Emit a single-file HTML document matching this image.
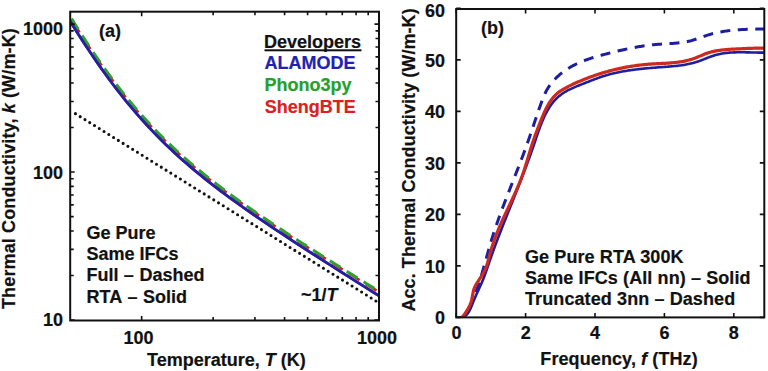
<!DOCTYPE html>
<html><head><meta charset="utf-8"><style>
html,body{margin:0;padding:0;background:#fff;width:768px;height:371px;overflow:hidden}
svg{display:block;font-family:"Liberation Sans",sans-serif;fill:#111}
</style></head><body>
<svg width="768" height="371" viewBox="0 0 768 371">
<defs><clipPath id="ca"><rect x="70" y="11" width="309" height="310"/></clipPath><clipPath id="cb"><rect x="456" y="9" width="308.5" height="309"/></clipPath></defs>
<g clip-path="url(#ca)" fill="none">
<path d="M75.43,113.67 L151.08,160.81 L226.73,207.96 L302.38,255.10 L378.03,302.25" stroke="#111" stroke-width="3.1" stroke-dasharray="0 5.62" stroke-linecap="round"/>
<path d="M70.20,21.36 L74.06,27.54 L77.92,33.63 L81.78,39.63 L85.64,45.54 L89.50,51.34 L93.36,57.05 L97.23,62.65 L101.09,68.14 L104.95,73.53 L108.81,78.81 L112.67,83.98 L116.53,89.04 L120.39,94.00 L124.25,98.84 L128.11,103.58 L131.97,108.21 L135.83,112.74 L139.69,117.16 L143.56,121.48 L147.42,125.70 L151.28,129.82 L155.14,133.85 L159.00,137.79 L162.86,141.64 L166.72,145.40 L170.58,149.08 L174.44,152.69 L178.30,156.22 L182.16,159.68 L186.02,163.07 L189.89,166.40 L193.75,169.66 L197.61,172.87 L201.47,176.03 L205.33,179.13 L209.19,182.18 L213.05,185.19 L216.91,188.16 L220.77,191.09 L224.63,193.97 L228.49,196.83 L232.35,199.65 L236.21,202.44 L240.08,205.20 L243.94,207.94 L247.80,210.65 L251.66,213.34 L255.52,216.01 L259.38,218.65 L263.24,221.28 L267.10,223.90 L270.96,226.49 L274.82,229.07 L278.68,231.64 L282.54,234.20 L286.41,236.74 L290.27,239.28 L294.13,241.80 L297.99,244.32 L301.85,246.82 L305.71,249.32 L309.57,251.81 L313.43,254.30 L317.29,256.78 L321.15,259.25 L325.01,261.72 L328.87,264.18 L332.73,266.64 L336.60,269.09 L340.46,271.54 L344.32,273.99 L348.18,276.44 L352.04,278.88 L355.90,281.31 L359.76,283.75 L363.62,286.18 L367.48,288.61 L371.34,291.04 L375.20,293.47 L379.06,295.90" stroke="#c42a20" stroke-width="2.6"/>
<path d="M70.20,17.61 L74.06,23.84 L77.92,29.98 L81.78,36.02 L85.64,41.97 L89.50,47.81 L93.36,53.55 L97.23,59.19 L101.09,64.72 L104.95,70.15 L108.81,75.46 L112.67,80.67 L116.53,85.76 L120.39,90.75 L124.25,95.63 L128.11,100.39 L131.97,105.05 L135.83,109.60 L139.69,114.05 L143.56,118.39 L147.42,122.64 L151.28,126.78 L155.14,130.83 L159.00,134.79 L162.86,138.66 L166.72,142.44 L170.58,146.14 L174.44,149.76 L178.30,153.31 L182.16,156.78 L186.02,160.19 L189.89,163.52 L193.75,166.80 L197.61,170.02 L201.47,173.18 L205.33,176.29 L209.19,179.35 L213.05,182.36 L216.91,185.33 L220.77,188.26 L224.63,191.15 L228.49,194.00 L232.35,196.82 L236.21,199.61 L240.08,202.37 L243.94,205.10 L247.80,207.80 L251.66,210.48 L255.52,213.14 L259.38,215.78 L263.24,218.40 L267.10,221.00 L270.96,223.58 L274.82,226.15 L278.68,228.70 L282.54,231.24 L286.41,233.77 L290.27,236.28 L294.13,238.79 L297.99,241.28 L301.85,243.77 L305.71,246.24 L309.57,248.71 L313.43,251.17 L317.29,253.62 L321.15,256.06 L325.01,258.50 L328.87,260.93 L332.73,263.36 L336.60,265.78 L340.46,268.20 L344.32,270.61 L348.18,273.02 L352.04,275.42 L355.90,277.82 L359.76,280.22 L363.62,282.61 L367.48,285.00 L371.34,287.39 L375.20,289.77 L379.06,292.15" stroke="#c42a20" stroke-width="2.8" stroke-dasharray="12.5 7.4" stroke-dashoffset="-5"/>
<path d="M70.20,16.53 L74.06,22.76 L77.92,28.90 L81.78,34.95 L85.64,40.90 L89.50,46.74 L93.36,52.49 L97.23,58.13 L101.09,63.67 L104.95,69.09 L108.81,74.41 L112.67,79.62 L116.53,84.72 L120.39,89.71 L124.25,94.59 L128.11,99.36 L131.97,104.02 L135.83,108.57 L139.69,113.02 L143.56,117.37 L147.42,121.62 L151.28,125.77 L155.14,129.82 L159.00,133.78 L162.86,137.66 L166.72,141.44 L170.58,145.15 L174.44,148.77 L178.30,152.32 L182.16,155.79 L186.02,159.20 L189.89,162.54 L193.75,165.82 L197.61,169.04 L201.47,172.21 L205.33,175.32 L209.19,178.39 L213.05,181.40 L216.91,184.37 L220.77,187.31 L224.63,190.20 L228.49,193.06 L232.35,195.88 L236.21,198.67 L240.08,201.43 L243.94,204.17 L247.80,206.88 L251.66,209.56 L255.52,212.23 L259.38,214.87 L263.24,217.49 L267.10,220.09 L270.96,222.68 L274.82,225.25 L278.68,227.81 L282.54,230.35 L286.41,232.89 L290.27,235.40 L294.13,237.91 L297.99,240.41 L301.85,242.90 L305.71,245.38 L309.57,247.85 L313.43,250.31 L317.29,252.77 L321.15,255.22 L325.01,257.66 L328.87,260.10 L332.73,262.53 L336.60,264.95 L340.46,267.37 L344.32,269.79 L348.18,272.20 L352.04,274.61 L355.90,277.01 L359.76,279.41 L363.62,281.81 L367.48,284.21 L371.34,286.60 L375.20,288.98 L379.06,291.37" stroke="#30a030" stroke-width="3.0" stroke-dasharray="12.5 7.4" stroke-dashoffset="-2.5"/>
<path d="M70.20,21.36 L74.06,27.54 L77.92,33.63 L81.78,39.63 L85.64,45.54 L89.50,51.34 L93.36,57.05 L97.23,62.65 L101.09,68.14 L104.95,73.53 L108.81,78.81 L112.67,83.98 L116.53,89.04 L120.39,94.00 L124.25,98.84 L128.11,103.58 L131.97,108.21 L135.83,112.74 L139.69,117.16 L143.56,121.48 L147.42,125.70 L151.28,129.82 L155.14,133.85 L159.00,137.79 L162.86,141.64 L166.72,145.40 L170.58,149.08 L174.44,152.69 L178.30,156.22 L182.16,159.68 L186.02,163.07 L189.89,166.40 L193.75,169.66 L197.61,172.87 L201.47,176.03 L205.33,179.13 L209.19,182.18 L213.05,185.19 L216.91,188.16 L220.77,191.09 L224.63,193.97 L228.49,196.83 L232.35,199.65 L236.21,202.44 L240.08,205.20 L243.94,207.94 L247.80,210.65 L251.66,213.34 L255.52,216.01 L259.38,218.65 L263.24,221.28 L267.10,223.90 L270.96,226.49 L274.82,229.07 L278.68,231.64 L282.54,234.20 L286.41,236.74 L290.27,239.28 L294.13,241.80 L297.99,244.32 L301.85,246.82 L305.71,249.32 L309.57,251.81 L313.43,254.30 L317.29,256.78 L321.15,259.25 L325.01,261.72 L328.87,264.18 L332.73,266.64 L336.60,269.09 L340.46,271.54 L344.32,273.99 L348.18,276.44 L352.04,278.88 L355.90,281.31 L359.76,283.75 L363.62,286.18 L367.48,288.61 L371.34,291.04 L375.20,293.47 L379.06,295.90" stroke="#2020a8" stroke-width="2.8"/>
</g>
<rect x="70.2" y="11.7" width="308.8" height="308.8" fill="none" stroke="#111" stroke-width="2"/>
<path d="M141.66,320.5 v-4.5 M141.66,11.7 v4.5 M379.06,320.5 v-4.5 M379.06,11.7 v4.5 M213.13,320.5 v-3.5 M213.13,11.7 v3.5 M254.93,320.5 v-3.5 M254.93,11.7 v3.5 M284.59,320.5 v-3.5 M284.59,11.7 v3.5 M307.60,320.5 v-3.5 M307.60,11.7 v3.5 M326.40,320.5 v-3.5 M326.40,11.7 v3.5 M342.29,320.5 v-3.5 M342.29,11.7 v3.5 M356.06,320.5 v-3.5 M356.06,11.7 v3.5 M368.20,320.5 v-3.5 M368.20,11.7 v3.5 M70.2,320.00 h4.5 M379.0,320.00 h-4.5 M70.2,172.05 h4.5 M379.0,172.05 h-4.5 M70.2,24.10 h4.5 M379.0,24.10 h-4.5 M70.2,275.46 h3.5 M379.0,275.46 h-3.5 M70.2,249.41 h3.5 M379.0,249.41 h-3.5 M70.2,230.93 h3.5 M379.0,230.93 h-3.5 M70.2,216.59 h3.5 M379.0,216.59 h-3.5 M70.2,204.87 h3.5 M379.0,204.87 h-3.5 M70.2,194.97 h3.5 M379.0,194.97 h-3.5 M70.2,186.39 h3.5 M379.0,186.39 h-3.5 M70.2,178.82 h3.5 M379.0,178.82 h-3.5 M70.2,127.51 h3.5 M379.0,127.51 h-3.5 M70.2,101.46 h3.5 M379.0,101.46 h-3.5 M70.2,82.98 h3.5 M379.0,82.98 h-3.5 M70.2,68.64 h3.5 M379.0,68.64 h-3.5 M70.2,56.92 h3.5 M379.0,56.92 h-3.5 M70.2,47.02 h3.5 M379.0,47.02 h-3.5 M70.2,38.44 h3.5 M379.0,38.44 h-3.5 M70.2,30.87 h3.5 M379.0,30.87 h-3.5" stroke="#111" stroke-width="1.6" fill="none"/>
<g clip-path="url(#cb)" fill="none">
<path d="M449.69,317.15 L451.30,317.71 L452.83,318.12 L454.28,318.40 L455.67,318.55 L456.98,318.57 L458.22,318.48 L459.39,318.26 L460.49,317.94 L461.53,317.50 L462.50,316.97 L463.40,316.33 L464.24,315.61 L465.02,314.81 L465.75,313.93 L466.44,312.99 L467.08,312.00 L467.69,310.97 L468.28,309.90 L468.84,308.80 L469.38,307.69 L469.91,306.57 L470.43,305.45 L470.95,304.33 L471.45,303.20 L471.95,302.07 L472.43,300.93 L472.91,299.79 L473.38,298.65 L473.84,297.50 L474.30,296.36 L474.74,295.20 L475.18,294.05 L475.62,292.89 L476.04,291.73 L476.46,290.57 L476.88,289.41 L477.28,288.24 L477.69,287.07 L478.08,285.90 L478.47,284.73 L478.86,283.55 L479.24,282.38 L479.61,281.20 L479.99,280.02 L480.35,278.83 L480.72,277.65 L481.08,276.46 L481.43,275.28 L481.79,274.09 L482.14,272.90 L482.49,271.71 L482.83,270.52 L483.17,269.33 L483.51,268.13 L483.85,266.94 L484.19,265.74 L484.53,264.55 L484.86,263.35 L485.20,262.16 L485.53,260.96 L485.86,259.76 L486.20,258.57 L486.53,257.37 L486.86,256.17 L487.20,254.98 L487.53,253.78 L487.87,252.59 L488.20,251.39 L488.54,250.20 L488.88,249.00 L489.22,247.81 L489.57,246.62 L489.91,245.42 L490.26,244.23 L490.61,243.04 L490.97,241.86 L491.33,240.67 L491.69,239.48 L492.06,238.30 L492.42,237.11 L492.80,235.93 L493.17,234.75 L493.55,233.57 L493.94,232.40 L494.32,231.22 L494.71,230.04 L495.10,228.87 L495.50,227.69 L495.89,226.52 L496.29,225.35 L496.70,224.18 L497.10,223.01 L497.51,221.84 L497.92,220.68 L498.34,219.51 L498.75,218.34 L499.17,217.18 L499.59,216.02 L500.01,214.85 L500.44,213.69 L500.86,212.53 L501.29,211.37 L501.72,210.21 L502.15,209.05 L502.59,207.89 L503.02,206.74 L503.46,205.58 L503.90,204.42 L504.34,203.27 L504.78,202.11 L505.22,200.95 L505.67,199.80 L506.11,198.65 L506.56,197.49 L507.00,196.34 L507.45,195.19 L507.90,194.03 L508.35,192.88 L508.80,191.73 L509.25,190.58 L509.70,189.43 L510.16,188.28 L510.61,187.12 L511.06,185.97 L511.51,184.82 L511.97,183.67 L512.42,182.52 L512.87,181.37 L513.33,180.22 L513.78,179.07 L514.23,177.92 L514.69,176.77 L515.14,175.62 L515.59,174.47 L516.04,173.32 L516.49,172.16 L516.94,171.01 L517.39,169.86 L517.84,168.71 L518.29,167.56 L518.74,166.41 L519.18,165.25 L519.63,164.10 L520.07,162.95 L520.52,161.79 L520.96,160.64 L521.40,159.48 L521.84,158.33 L522.28,157.17 L522.71,156.02 L523.15,154.86 L523.58,153.70 L524.01,152.54 L524.44,151.38 L524.87,150.22 L525.29,149.06 L525.72,147.90 L526.14,146.74 L526.56,145.58 L526.97,144.42 L527.39,143.25 L527.80,142.09 L528.21,140.92 L528.62,139.75 L529.02,138.59 L529.43,137.42 L529.83,136.25 L530.23,135.08 L530.63,133.91 L531.03,132.74 L531.43,131.57 L531.82,130.40 L532.22,129.22 L532.62,128.05 L533.01,126.88 L533.41,125.70 L533.80,124.53 L534.20,123.36 L534.59,122.18 L534.99,121.01 L535.38,119.83 L535.78,118.65 L536.18,117.48 L536.58,116.30 L536.97,115.13 L537.38,113.95 L537.78,112.77 L538.18,111.60 L538.59,110.42 L538.99,109.25 L539.40,108.07 L539.81,106.89 L540.23,105.72 L540.64,104.54 L541.06,103.37 L541.48,102.19 L541.91,101.02 L542.35,99.85 L542.80,98.69 L543.26,97.53 L543.73,96.38 L544.22,95.24 L544.73,94.11 L545.25,93.00 L545.80,91.89 L546.37,90.80 L546.97,89.72 L547.59,88.66 L548.24,87.62 L548.91,86.59 L549.61,85.58 L550.33,84.58 L551.07,83.60 L551.84,82.64 L552.63,81.69 L553.44,80.76 L554.27,79.85 L555.12,78.95 L555.98,78.07 L556.87,77.20 L557.77,76.36 L558.70,75.53 L559.63,74.71 L560.59,73.91 L561.55,73.13 L562.54,72.37 L563.53,71.62 L564.54,70.89 L565.57,70.18 L566.60,69.49 L567.65,68.81 L568.70,68.15 L569.77,67.50 L570.84,66.88 L571.93,66.27 L573.02,65.68 L574.12,65.10 L575.22,64.55 L576.33,64.01 L577.45,63.48 L578.58,62.97 L579.71,62.47 L580.85,61.99 L581.99,61.52 L583.14,61.06 L584.30,60.62 L585.46,60.19 L586.62,59.76 L587.79,59.35 L588.96,58.95 L590.13,58.56 L591.31,58.18 L592.49,57.80 L593.68,57.44 L594.87,57.08 L596.06,56.73 L597.25,56.38 L598.44,56.04 L599.64,55.70 L600.83,55.37 L602.03,55.05 L603.23,54.72 L604.43,54.40 L605.63,54.09 L606.83,53.77 L608.03,53.46 L609.23,53.15 L610.43,52.84 L611.63,52.54 L612.84,52.23 L614.04,51.94 L615.24,51.64 L616.44,51.35 L617.65,51.06 L618.85,50.77 L620.05,50.49 L621.26,50.21 L622.46,49.94 L623.67,49.67 L624.88,49.41 L626.09,49.15 L627.29,48.89 L628.50,48.64 L629.71,48.39 L630.92,48.15 L632.14,47.91 L633.35,47.68 L634.56,47.45 L635.78,47.23 L636.99,47.02 L638.21,46.81 L639.43,46.60 L640.64,46.40 L641.86,46.21 L643.08,46.02 L644.31,45.84 L645.53,45.67 L646.75,45.50 L647.98,45.34 L649.21,45.19 L650.44,45.04 L651.67,44.90 L652.90,44.77 L654.13,44.65 L655.36,44.53 L656.60,44.42 L657.84,44.32 L659.07,44.22 L660.31,44.14 L661.56,44.06 L662.80,43.98 L664.04,43.91 L665.28,43.84 L666.53,43.77 L667.77,43.70 L669.01,43.63 L670.25,43.55 L671.50,43.48 L672.74,43.39 L673.97,43.30 L675.21,43.21 L676.45,43.10 L677.68,42.99 L678.91,42.86 L680.14,42.72 L681.36,42.56 L682.58,42.39 L683.80,42.21 L685.01,42.00 L686.22,41.78 L687.43,41.54 L688.63,41.27 L689.83,40.99 L691.02,40.68 L692.20,40.34 L693.39,39.99 L694.56,39.62 L695.74,39.24 L696.91,38.84 L698.09,38.44 L699.26,38.03 L700.43,37.61 L701.60,37.20 L702.77,36.78 L703.94,36.37 L705.11,35.96 L706.28,35.57 L707.46,35.18 L708.64,34.81 L709.83,34.45 L711.01,34.11 L712.20,33.79 L713.40,33.48 L714.60,33.18 L715.80,32.90 L717.00,32.63 L718.21,32.38 L719.42,32.14 L720.63,31.91 L721.84,31.69 L723.06,31.48 L724.28,31.29 L725.50,31.11 L726.73,30.94 L727.95,30.78 L729.18,30.62 L730.41,30.48 L731.64,30.35 L732.87,30.23 L734.11,30.11 L735.34,30.01 L736.58,29.91 L737.81,29.82 L739.05,29.73 L740.29,29.66 L741.53,29.59 L742.77,29.52 L744.01,29.46 L745.26,29.41 L746.50,29.36 L747.74,29.32 L748.98,29.28 L750.22,29.24 L751.47,29.21 L752.71,29.18 L753.95,29.16 L755.19,29.13 L756.43,29.11 L757.67,29.09 L758.91,29.07 L760.15,29.06 L761.38,29.04 L762.62,29.02 L763.85,29.00 L765.08,28.99 L766.32,28.97 L767.55,28.95 L768.77,28.93 L770.00,28.91" stroke="#1e1ea0" stroke-width="3" stroke-dasharray="10 7.5" stroke-dashoffset="10.5"/>
<path d="M449.69,317.13 L451.20,317.60 L452.65,317.96 L454.05,318.23 L455.39,318.41 L456.68,318.49 L457.91,318.49 L459.09,318.40 L460.21,318.22 L461.28,317.96 L462.30,317.62 L463.26,317.20 L464.17,316.70 L465.02,316.13 L465.82,315.48 L466.57,314.76 L467.28,313.97 L467.93,313.12 L468.55,312.21 L469.13,311.26 L469.68,310.26 L470.21,309.22 L470.71,308.15 L471.19,307.04 L471.66,305.92 L472.12,304.78 L472.57,303.63 L473.02,302.47 L473.48,301.32 L473.94,300.17 L474.42,299.02 L474.90,297.89 L475.39,296.76 L475.88,295.63 L476.38,294.52 L476.89,293.40 L477.39,292.29 L477.90,291.19 L478.41,290.09 L478.91,288.99 L479.42,287.90 L479.92,286.80 L480.41,285.71 L480.90,284.62 L481.39,283.53 L481.87,282.44 L482.33,281.34 L482.79,280.25 L483.24,279.16 L483.68,278.06 L484.10,276.96 L484.52,275.86 L484.93,274.75 L485.33,273.65 L485.73,272.54 L486.12,271.44 L486.51,270.33 L486.89,269.22 L487.27,268.11 L487.65,266.99 L488.02,265.88 L488.40,264.77 L488.78,263.65 L489.15,262.54 L489.54,261.42 L489.92,260.30 L490.31,259.18 L490.70,258.07 L491.09,256.95 L491.48,255.83 L491.88,254.71 L492.28,253.59 L492.68,252.47 L493.09,251.35 L493.49,250.23 L493.90,249.11 L494.31,247.99 L494.73,246.87 L495.14,245.75 L495.56,244.63 L495.98,243.51 L496.40,242.38 L496.82,241.26 L497.24,240.14 L497.67,239.02 L498.10,237.90 L498.53,236.78 L498.96,235.66 L499.39,234.54 L499.82,233.42 L500.25,232.30 L500.69,231.18 L501.13,230.06 L501.56,228.94 L502.00,227.82 L502.44,226.71 L502.88,225.59 L503.32,224.47 L503.76,223.36 L504.20,222.24 L504.64,221.13 L505.09,220.01 L505.53,218.90 L505.97,217.78 L506.42,216.67 L506.86,215.56 L507.30,214.45 L507.75,213.34 L508.19,212.23 L508.63,211.12 L509.08,210.02 L509.52,208.91 L509.96,207.81 L510.41,206.70 L510.85,205.60 L511.29,204.50 L511.73,203.40 L512.17,202.30 L512.61,201.20 L513.05,200.10 L513.49,199.01 L513.92,197.92 L514.36,196.82 L514.80,195.73 L515.23,194.64 L515.66,193.55 L516.10,192.46 L516.53,191.37 L516.96,190.28 L517.39,189.20 L517.82,188.11 L518.25,187.02 L518.67,185.94 L519.10,184.85 L519.53,183.76 L519.95,182.68 L520.38,181.59 L520.80,180.50 L521.22,179.41 L521.64,178.33 L522.06,177.24 L522.48,176.15 L522.90,175.06 L523.32,173.97 L523.73,172.87 L524.15,171.78 L524.56,170.69 L524.98,169.59 L525.39,168.50 L525.80,167.40 L526.21,166.30 L526.62,165.20 L527.03,164.09 L527.44,162.99 L527.85,161.88 L528.25,160.77 L528.66,159.66 L529.06,158.55 L529.47,157.43 L529.87,156.31 L530.27,155.19 L530.67,154.07 L531.07,152.94 L531.47,151.81 L531.87,150.68 L532.27,149.55 L532.66,148.41 L533.06,147.27 L533.45,146.13 L533.85,144.98 L534.24,143.83 L534.63,142.67 L535.02,141.51 L535.41,140.35 L535.80,139.19 L536.19,138.02 L536.59,136.86 L536.98,135.69 L537.38,134.52 L537.78,133.36 L538.18,132.19 L538.59,131.03 L539.00,129.87 L539.42,128.71 L539.84,127.56 L540.27,126.40 L540.70,125.26 L541.15,124.12 L541.60,122.98 L542.05,121.85 L542.52,120.73 L543.00,119.62 L543.48,118.51 L543.98,117.41 L544.48,116.32 L545.00,115.24 L545.53,114.18 L546.07,113.12 L546.63,112.07 L547.20,111.04 L547.78,110.02 L548.38,109.01 L548.99,108.02 L549.61,107.04 L550.26,106.07 L550.92,105.12 L551.59,104.19 L552.29,103.27 L553.00,102.37 L553.73,101.49 L554.48,100.63 L555.25,99.79 L556.05,98.96 L556.86,98.16 L557.69,97.38 L558.54,96.61 L559.42,95.87 L560.32,95.16 L561.25,94.46 L562.19,93.79 L563.16,93.14 L564.15,92.51 L565.15,91.90 L566.18,91.31 L567.22,90.73 L568.27,90.17 L569.34,89.63 L570.42,89.10 L571.51,88.58 L572.62,88.07 L573.73,87.58 L574.85,87.10 L575.97,86.62 L577.10,86.15 L578.24,85.69 L579.37,85.24 L580.51,84.79 L581.65,84.34 L582.78,83.89 L583.92,83.45 L585.05,83.01 L586.17,82.57 L587.29,82.13 L588.41,81.68 L589.52,81.25 L590.64,80.81 L591.75,80.38 L592.85,79.95 L593.96,79.52 L595.07,79.10 L596.17,78.69 L597.28,78.28 L598.38,77.88 L599.49,77.48 L600.60,77.10 L601.71,76.72 L602.83,76.35 L603.95,75.99 L605.07,75.64 L606.20,75.31 L607.32,74.98 L608.46,74.66 L609.59,74.35 L610.73,74.05 L611.87,73.76 L613.01,73.48 L614.16,73.21 L615.31,72.95 L616.46,72.69 L617.62,72.44 L618.77,72.20 L619.93,71.97 L621.10,71.75 L622.26,71.53 L623.43,71.32 L624.60,71.12 L625.77,70.92 L626.94,70.73 L628.11,70.55 L629.29,70.37 L630.47,70.20 L631.65,70.03 L632.83,69.87 L634.01,69.71 L635.19,69.56 L636.38,69.42 L637.57,69.28 L638.75,69.14 L639.94,69.01 L641.13,68.88 L642.32,68.76 L643.51,68.64 L644.70,68.52 L645.89,68.41 L647.08,68.29 L648.28,68.19 L649.47,68.08 L650.66,67.98 L651.85,67.88 L653.05,67.78 L654.24,67.68 L655.43,67.59 L656.63,67.49 L657.82,67.40 L659.01,67.31 L660.20,67.22 L661.39,67.13 L662.58,67.04 L663.77,66.95 L664.96,66.86 L666.15,66.77 L667.34,66.68 L668.52,66.59 L669.71,66.50 L670.89,66.40 L672.07,66.30 L673.25,66.19 L674.43,66.08 L675.61,65.97 L676.78,65.84 L677.96,65.71 L679.13,65.57 L680.30,65.43 L681.46,65.27 L682.63,65.10 L683.79,64.92 L684.95,64.73 L686.11,64.53 L687.26,64.31 L688.41,64.08 L689.56,63.84 L690.71,63.58 L691.85,63.30 L692.99,63.01 L694.13,62.69 L695.26,62.37 L696.39,62.02 L697.51,61.65 L698.64,61.26 L699.76,60.86 L700.87,60.44 L701.99,60.02 L703.10,59.59 L704.22,59.15 L705.33,58.71 L706.44,58.27 L707.56,57.83 L708.68,57.40 L709.79,56.97 L710.92,56.56 L712.04,56.17 L713.17,55.78 L714.30,55.42 L715.44,55.08 L716.58,54.77 L717.73,54.47 L718.88,54.20 L720.04,53.95 L721.20,53.73 L722.36,53.52 L723.53,53.33 L724.71,53.16 L725.88,53.01 L727.06,52.88 L728.25,52.76 L729.43,52.65 L730.62,52.57 L731.81,52.49 L733.01,52.43 L734.20,52.38 L735.40,52.34 L736.60,52.31 L737.80,52.29 L739.00,52.28 L740.20,52.27 L741.41,52.28 L742.61,52.28 L743.81,52.30 L745.02,52.32 L746.22,52.34 L747.43,52.37 L748.63,52.39 L749.83,52.42 L751.04,52.45 L752.24,52.48 L753.44,52.51 L754.63,52.53 L755.83,52.55 L757.02,52.57 L758.22,52.59 L759.40,52.59 L760.59,52.60 L761.78,52.59 L762.96,52.58 L764.13,52.56 L765.31,52.52 L766.48,52.48 L767.64,52.43 L768.81,52.36 L769.97,52.28" stroke="#1e1ea0" stroke-width="2.6"/>
<path d="M449.98,317.47 L451.03,317.29 L452.20,317.26 L453.44,317.33 L454.74,317.48 L456.06,317.64 L457.37,317.77 L458.65,317.83 L459.86,317.77 L460.97,317.55 L461.96,317.11 L462.81,316.44 L463.55,315.59 L464.24,314.65 L464.92,313.69 L465.59,312.70 L466.25,311.70 L466.89,310.68 L467.52,309.64 L468.12,308.58 L468.70,307.51 L469.24,306.42 L469.76,305.32 L470.24,304.21 L470.68,303.07 L471.07,301.93 L471.42,300.77 L471.73,299.60 L471.99,298.42 L472.23,297.24 L472.45,296.05 L472.66,294.87 L472.88,293.69 L473.11,292.52 L473.36,291.37 L473.64,290.23 L473.97,289.11 L474.35,288.02 L474.80,286.95 L475.30,285.91 L475.86,284.89 L476.46,283.89 L477.09,282.89 L477.74,281.90 L478.39,280.92 L479.05,279.92 L479.71,278.93 L480.36,277.93 L481.01,276.93 L481.65,275.92 L482.28,274.90 L482.89,273.87 L483.48,272.84 L484.05,271.79 L484.60,270.73 L485.11,269.66 L485.60,268.57 L486.05,267.47 L486.46,266.35 L486.85,265.22 L487.22,264.08 L487.56,262.93 L487.89,261.77 L488.20,260.61 L488.51,259.45 L488.81,258.28 L489.11,257.11 L489.41,255.94 L489.71,254.77 L490.02,253.61 L490.35,252.45 L490.67,251.29 L491.01,250.14 L491.36,248.99 L491.71,247.85 L492.07,246.70 L492.44,245.56 L492.81,244.43 L493.19,243.29 L493.58,242.16 L493.98,241.03 L494.38,239.91 L494.79,238.79 L495.20,237.67 L495.62,236.55 L496.05,235.43 L496.48,234.32 L496.92,233.21 L497.36,232.10 L497.81,230.99 L498.26,229.89 L498.72,228.79 L499.18,227.68 L499.65,226.58 L500.12,225.49 L500.60,224.39 L501.08,223.30 L501.56,222.20 L502.05,221.11 L502.54,220.02 L503.04,218.93 L503.53,217.84 L504.03,216.76 L504.54,215.67 L505.04,214.58 L505.55,213.50 L506.05,212.41 L506.56,211.33 L507.07,210.25 L507.58,209.16 L508.10,208.08 L508.61,207.00 L509.12,205.91 L509.63,204.83 L510.14,203.75 L510.65,202.66 L511.16,201.58 L511.67,200.49 L512.17,199.41 L512.68,198.32 L513.18,197.24 L513.68,196.15 L514.18,195.06 L514.67,193.97 L515.17,192.88 L515.66,191.79 L516.14,190.69 L516.62,189.60 L517.10,188.50 L517.57,187.40 L518.04,186.30 L518.50,185.20 L518.96,184.10 L519.42,182.99 L519.86,181.89 L520.30,180.78 L520.74,179.66 L521.17,178.55 L521.59,177.43 L522.01,176.31 L522.42,175.19 L522.82,174.07 L523.21,172.94 L523.60,171.81 L523.98,170.68 L524.36,169.54 L524.73,168.40 L525.09,167.27 L525.46,166.12 L525.81,164.98 L526.17,163.84 L526.52,162.70 L526.87,161.55 L527.22,160.40 L527.56,159.26 L527.91,158.11 L528.25,156.96 L528.60,155.81 L528.94,154.66 L529.29,153.51 L529.63,152.36 L529.98,151.22 L530.33,150.07 L530.68,148.92 L531.04,147.77 L531.40,146.63 L531.76,145.48 L532.13,144.34 L532.50,143.20 L532.88,142.06 L533.26,140.92 L533.65,139.78 L534.04,138.65 L534.44,137.51 L534.84,136.38 L535.25,135.25 L535.66,134.12 L536.07,133.00 L536.49,131.87 L536.91,130.75 L537.34,129.63 L537.76,128.51 L538.19,127.39 L538.63,126.28 L539.06,125.17 L539.50,124.06 L539.94,122.95 L540.38,121.84 L540.82,120.74 L541.26,119.64 L541.71,118.54 L542.15,117.44 L542.61,116.34 L543.06,115.25 L543.53,114.16 L544.01,113.07 L544.49,111.98 L545.00,110.90 L545.51,109.82 L546.04,108.74 L546.59,107.67 L547.16,106.60 L547.75,105.54 L548.35,104.48 L548.98,103.44 L549.63,102.42 L550.30,101.40 L550.99,100.41 L551.70,99.43 L552.44,98.48 L553.20,97.55 L553.99,96.64 L554.80,95.77 L555.64,94.92 L556.50,94.10 L557.39,93.32 L558.31,92.57 L559.26,91.85 L560.23,91.17 L561.22,90.51 L562.23,89.88 L563.25,89.27 L564.29,88.68 L565.34,88.10 L566.39,87.54 L567.45,86.98 L568.52,86.43 L569.59,85.89 L570.66,85.36 L571.74,84.83 L572.82,84.32 L573.90,83.81 L574.99,83.30 L576.09,82.81 L577.18,82.32 L578.28,81.84 L579.38,81.36 L580.49,80.90 L581.59,80.44 L582.70,79.98 L583.82,79.53 L584.93,79.09 L586.05,78.65 L587.17,78.22 L588.29,77.79 L589.41,77.37 L590.53,76.96 L591.66,76.55 L592.79,76.15 L593.92,75.75 L595.05,75.36 L596.18,74.98 L597.32,74.60 L598.46,74.23 L599.59,73.86 L600.74,73.50 L601.88,73.15 L603.02,72.80 L604.17,72.46 L605.32,72.12 L606.47,71.79 L607.62,71.47 L608.77,71.15 L609.92,70.84 L611.08,70.54 L612.24,70.24 L613.39,69.95 L614.55,69.66 L615.72,69.38 L616.88,69.11 L618.04,68.84 L619.21,68.58 L620.38,68.33 L621.55,68.08 L622.72,67.84 L623.89,67.60 L625.06,67.37 L626.23,67.15 L627.41,66.94 L628.59,66.73 L629.76,66.53 L630.94,66.33 L632.12,66.14 L633.30,65.96 L634.49,65.78 L635.67,65.61 L636.85,65.45 L638.04,65.30 L639.23,65.15 L640.42,65.00 L641.60,64.87 L642.79,64.74 L643.98,64.62 L645.18,64.50 L646.37,64.39 L647.56,64.29 L648.76,64.20 L649.95,64.11 L651.15,64.03 L652.35,63.95 L653.54,63.88 L654.74,63.81 L655.94,63.75 L657.14,63.69 L658.34,63.63 L659.54,63.58 L660.73,63.52 L661.93,63.46 L663.13,63.40 L664.33,63.34 L665.53,63.28 L666.72,63.21 L667.92,63.13 L669.11,63.05 L670.31,62.96 L671.50,62.87 L672.69,62.77 L673.88,62.65 L675.07,62.53 L676.26,62.40 L677.44,62.25 L678.62,62.09 L679.81,61.92 L680.98,61.74 L682.16,61.53 L683.34,61.32 L684.51,61.08 L685.68,60.83 L686.84,60.56 L688.01,60.27 L689.17,59.96 L690.32,59.63 L691.47,59.29 L692.62,58.92 L693.75,58.54 L694.88,58.14 L696.01,57.72 L697.12,57.28 L698.22,56.82 L699.32,56.36 L700.41,55.88 L701.51,55.41 L702.60,54.94 L703.69,54.49 L704.79,54.04 L705.89,53.62 L707.01,53.23 L708.13,52.85 L709.26,52.51 L710.40,52.18 L711.54,51.88 L712.70,51.60 L713.85,51.34 L715.02,51.09 L716.19,50.87 L717.36,50.66 L718.55,50.47 L719.73,50.30 L720.92,50.14 L722.11,49.99 L723.31,49.86 L724.51,49.74 L725.71,49.63 L726.91,49.52 L728.12,49.43 L729.32,49.35 L730.53,49.27 L731.74,49.20 L732.94,49.13 L734.15,49.07 L735.36,49.01 L736.56,48.95 L737.76,48.90 L738.97,48.85 L740.17,48.79 L741.36,48.73 L742.56,48.68 L743.75,48.62 L744.94,48.57 L746.12,48.51 L747.31,48.46 L748.50,48.41 L749.68,48.36 L750.87,48.32 L752.05,48.28 L753.24,48.24 L754.42,48.21 L755.61,48.19 L756.79,48.17 L757.98,48.16 L759.17,48.16 L760.36,48.17 L761.56,48.19 L762.76,48.21 L763.95,48.25 L765.16,48.30 L766.36,48.36 L767.57,48.43 L768.79,48.51 L770.00,48.61" stroke="#cc2a1e" stroke-width="3.2"/>
</g>
<rect x="456.2" y="9.0" width="308.09999999999997" height="308.4" fill="none" stroke="#111" stroke-width="2"/>
<path d="M456.20,317.4 v-4.5 M456.20,9.0 v4.5 M525.60,317.4 v-4.5 M525.60,9.0 v4.5 M595.00,317.4 v-4.5 M595.00,9.0 v4.5 M664.40,317.4 v-4.5 M664.40,9.0 v4.5 M733.80,317.4 v-4.5 M733.80,9.0 v4.5 M456.2,317.40 h4.5 M764.3,317.40 h-4.5 M456.2,265.90 h4.5 M764.3,265.90 h-4.5 M456.2,214.40 h4.5 M764.3,214.40 h-4.5 M456.2,162.90 h4.5 M764.3,162.90 h-4.5 M456.2,111.40 h4.5 M764.3,111.40 h-4.5 M456.2,59.90 h4.5 M764.3,59.90 h-4.5 M456.2,8.40 h4.5 M764.3,8.40 h-4.5" stroke="#111" stroke-width="1.6" fill="none"/>
<text x="63" y="34.5" font-size="18" font-weight="bold" stroke="#111" stroke-width="0.2" text-anchor="end">1000</text>
<text x="63" y="178.5" font-size="18" font-weight="bold" stroke="#111" stroke-width="0.2" text-anchor="end">100</text>
<text x="63" y="325.5" font-size="18" font-weight="bold" stroke="#111" stroke-width="0.2" text-anchor="end">10</text>
<text x="138.5" y="343.5" font-size="18" font-weight="bold" stroke="#111" stroke-width="0.2" text-anchor="middle">100</text>
<text x="377" y="343.5" font-size="18" font-weight="bold" stroke="#111" stroke-width="0.2" text-anchor="middle">1000</text>
<text x="147" y="365.5" font-size="18" font-weight="bold" stroke-width="0.2" stroke="#111">Temperature, <tspan font-style="italic">T</tspan> (K)</text>
<text transform="translate(14.5,309) rotate(-90)" font-size="18" font-weight="bold" stroke-width="0.2" stroke="#111" textLength="280.8" lengthAdjust="spacing">Thermal Conductivity, <tspan font-style="italic">k</tspan> (W/m-K)</text>
<text x="99" y="37" font-size="18" font-weight="bold" stroke-width="0.2" stroke="#111">(a)</text>
<text x="264" y="48" font-size="18" font-weight="bold" stroke-width="0.2" stroke="#111">Developers</text>
<rect x="264.5" y="49.3" width="97" height="2" fill="#111"/>
<text x="264.6" y="69.3" font-size="18" font-weight="bold" stroke-width="0.2" fill="#2222b0" stroke="#2222b0">ALAMODE</text>
<text x="264.5" y="91" font-size="18" font-weight="bold" stroke-width="0.2" fill="#24a02c" stroke="#24a02c">Phono3py</text>
<text x="264.7" y="112.5" font-size="18" font-weight="bold" stroke-width="0.2" fill="#dc2020" stroke="#dc2020">ShengBTE</text>
<text x="86.5" y="239.0" font-size="18" font-weight="bold" stroke-width="0.2" stroke="#111">Ge Pure</text>
<text x="86.5" y="260.2" font-size="18" font-weight="bold" stroke-width="0.2" stroke="#111">Same IFCs</text>
<text x="86.5" y="281.4" font-size="18" font-weight="bold" stroke-width="0.2" stroke="#111">Full<tspan letter-spacing="0.3"> – </tspan>Dashed</text>
<text x="86.5" y="302.6" font-size="18" font-weight="bold" stroke-width="0.2" stroke="#111">RTA<tspan letter-spacing="0.3"> – </tspan>Solid</text>
<text x="301" y="301.3" font-size="18" font-weight="bold" stroke-width="0.2" stroke="#111">~1/<tspan font-style="italic">T</tspan></text>
<text x="445" y="324.4" font-size="18" font-weight="bold" stroke="#111" stroke-width="0.2" text-anchor="end">0</text>
<text x="445" y="272.9" font-size="18" font-weight="bold" stroke="#111" stroke-width="0.2" text-anchor="end">10</text>
<text x="445" y="221.4" font-size="18" font-weight="bold" stroke="#111" stroke-width="0.2" text-anchor="end">20</text>
<text x="445" y="169.9" font-size="18" font-weight="bold" stroke="#111" stroke-width="0.2" text-anchor="end">30</text>
<text x="445" y="118.4" font-size="18" font-weight="bold" stroke="#111" stroke-width="0.2" text-anchor="end">40</text>
<text x="445" y="66.9" font-size="18" font-weight="bold" stroke="#111" stroke-width="0.2" text-anchor="end">50</text>
<text x="445" y="16.6" font-size="18" font-weight="bold" stroke="#111" stroke-width="0.2" text-anchor="end">60</text>
<text x="456.5" y="339.2" font-size="18" font-weight="bold" stroke="#111" stroke-width="0.2" text-anchor="middle">0</text>
<text x="525.8" y="339.2" font-size="18" font-weight="bold" stroke="#111" stroke-width="0.2" text-anchor="middle">2</text>
<text x="595.1" y="339.2" font-size="18" font-weight="bold" stroke="#111" stroke-width="0.2" text-anchor="middle">4</text>
<text x="664.5" y="339.2" font-size="18" font-weight="bold" stroke="#111" stroke-width="0.2" text-anchor="middle">6</text>
<text x="733.8" y="339.2" font-size="18" font-weight="bold" stroke="#111" stroke-width="0.2" text-anchor="middle">8</text>
<text x="540.3" y="364.8" font-size="18" font-weight="bold" stroke-width="0.2" stroke="#111" letter-spacing="0.1">Frequency, <tspan font-style="italic">f</tspan> (THz)</text>
<text transform="translate(414.5,311.5) rotate(-90)" font-size="18" font-weight="bold" stroke-width="0.2" stroke="#111" textLength="303.2" lengthAdjust="spacing">Acc. Thermal Conductivity (W/m-K)</text>
<text x="481" y="34" font-size="18" font-weight="bold" stroke-width="0.2" stroke="#111">(b)</text>
<text x="525" y="262.5" font-size="18" font-weight="bold" stroke-width="0.2" stroke="#111" letter-spacing="0.1">Ge Pure RTA 300K</text>
<text x="525" y="283.5" font-size="18" font-weight="bold" stroke-width="0.2" stroke="#111" letter-spacing="0.1">Same IFCs (All nn) – Solid</text>
<text x="525" y="304.5" font-size="18" font-weight="bold" stroke-width="0.2" stroke="#111" letter-spacing="0.1">Truncated 3nn – Dashed</text>
</svg></body></html>
